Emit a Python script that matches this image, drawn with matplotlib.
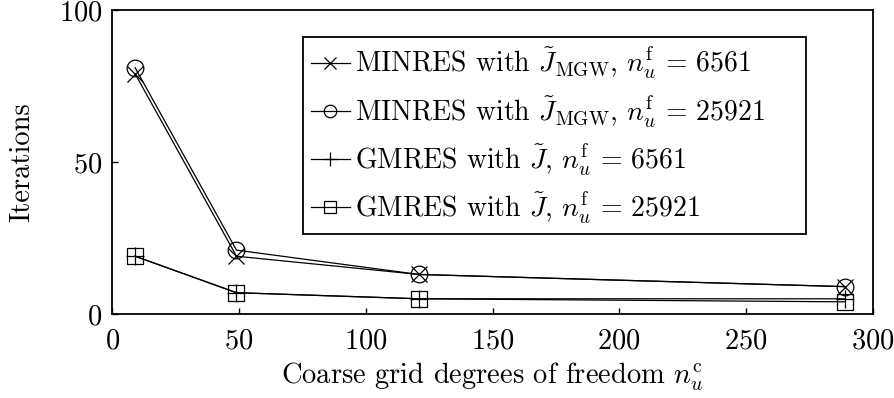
import matplotlib
matplotlib.use('Agg')
import matplotlib.pyplot as plt

plt.rcParams['font.family'] = 'serif'
plt.rcParams['font.serif'] = ['cmr10']
plt.rcParams['mathtext.fontset'] = 'cm'
plt.rcParams['axes.unicode_minus'] = False
plt.rcParams['axes.formatter.use_mathtext'] = True

# coarse grid dofs
n_coarse = [9, 49, 121, 289]

minres_6561 = [79, 19, 13, 9]
minres_25921 = [81, 21, 13, 9]
gmres_6561 = [19, 7, 5, 5]
gmres_25921 = [19, 7, 5, 4]

labels = [
    r'MINRES with $\tilde{J}_{\mathrm{MGW}}$, $n_u^{\mathrm{f}}\,=\,6561$',
    r'MINRES with $\tilde{J}_{\mathrm{MGW}}$, $n_u^{\mathrm{f}}\,=\,25921$',
    r'GMRES with $\tilde{J}$, $n_u^{\mathrm{f}}\,=\,6561$',
    r'GMRES with $\tilde{J}$, $n_u^{\mathrm{f}}\,=\,25921$',
]

FS = 20.5


def main():
    fig = plt.figure(figsize=(8.94, 3.98), dpi=100)
    ax = fig.add_axes([0.1256, 0.2111, 0.8506, 0.7638])

    style = dict(color='black', lw=0.9, mfc='none', mec='black', mew=0.9)
    ax.plot(n_coarse, minres_6561, marker='x', ms=11, label=labels[0], **style)
    ax.plot(n_coarse, minres_25921, marker='o', ms=12, label=labels[1], **style)
    ax.plot(n_coarse, gmres_6561, marker='+', ms=13, label=labels[2], **style)
    ax.plot(n_coarse, gmres_25921, marker='s', ms=11, label=labels[3], **style)

    ax.set_xlim(0, 300)
    ax.set_ylim(0, 100)
    ax.set_xticks([0, 50, 100, 150, 200, 250, 300])
    ax.set_yticks([0, 50, 100])
    ax.tick_params(direction='in', length=4.5, width=1.0, labelsize=FS,
                   top=False, right=False)
    ax.tick_params(axis='x', pad=10)
    ax.tick_params(axis='y', pad=7)
    for s in ax.spines.values():
        s.set_linewidth(1.3)

    ax.set_xlabel(r'Coarse grid degrees of freedom $n_u^{\mathrm{c}}$', fontsize=FS, labelpad=5)
    ax.set_ylabel('Iterations', fontsize=FS, labelpad=17)

    leg = ax.legend(loc='upper left', bbox_to_anchor=(0.2504, 0.26, 0.662, 0.652),
                    mode='expand', borderaxespad=0,
                    fontsize=20, fancybox=False, edgecolor='black', framealpha=1,
                    handlelength=1.4, handletextpad=0.17, labelspacing=0.42,
                    borderpad=0.3, markerscale=0.75)
    leg.get_frame().set_linewidth(1.3)

    fig.savefig('out.png', dpi=100)


if __name__ == '__main__':
    main()
